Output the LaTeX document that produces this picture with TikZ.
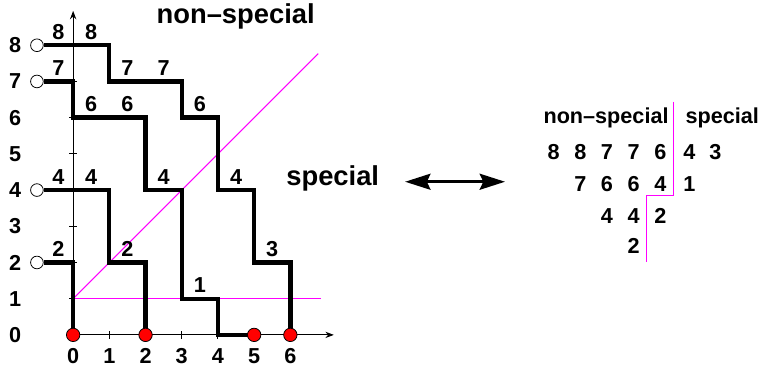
\documentclass[tikz,border=0pt]{standalone}
\usepackage{fontspec}
\setmainfont{Liberation Sans}
\usetikzlibrary{arrows.meta}
\definecolor{mag}{RGB}{255,0,255}

\begin{document}
\begin{tikzpicture}[
    >=Stealth,
    num/.style={font=\bfseries\fontsize{17}{20}\selectfont, inner sep=0pt},
    lab/.style={num, above=1mm},
    big/.style={font=\bfseries\fontsize{21.5}{25}\selectfont, inner sep=0pt},
    walk/.style={line width=3.4pt},
    axis/.style={line width=0.8pt},
    hole/.style={circle, draw, line width=0.6pt, fill=white, minimum size=3.5mm, inner sep=0pt},
    dot/.style={circle, draw, line width=0.6pt, fill=red, minimum size=3.7mm, inner sep=0pt},
    diag/.style={mag, line width=0.8pt}
]

\useasboundingbox (-2.02,-1.05) rectangle (19.0,9.25);

% ---------------- EIXOS ----------------

\draw[
    axis,
    ->
] (0,0) -- (0,8.95);

\draw[
    axis,
    ->
] (0,0) -- (7.2,0);

\foreach \i in {1,...,7}
    \draw[axis] (-0.11,\i) -- (0.11,\i);
\foreach \i in {1,...,6}
    \draw[axis] (\i,-0.11) -- (\i,0.11);

\foreach \i in {0,...,8}
    \node[num] (y\i) at (-1.6,\i) {\i};
\foreach \i in {0,...,6}
    \node[num] (x\i) at (\i,-0.58) {\i};

% Diagonal i recta y=1
\draw[diag] (0,1) -- (6.77,7.77);
\draw[diag] (0,1) -- (6.85,1);

% Inicis i finals
\node[hole] (o2) at (-1,2) {};
\node[hole] (o4) at (-1,4) {};
\node[hole] (o7) at (-1,7) {};
\node[hole] (o8) at (-1,8) {};

\coordinate (e0) at (0,0);
\coordinate (e2) at (2,0);
\coordinate (e5) at (5,0);
\coordinate (e6) at (6,0);

% ---------------- CAMINS ----------------

\draw[walk] (o2.east)
    -- node[lab] (p1a) {2} (0,2)
    -- (e0);

\draw[walk] (o4.east)
    -- node[lab] (p2a) {4} (0,4)
    -- node[lab] (p2b) {4} (1,4)
    -- (1,2)
    -- node[lab] (p2c) {2} (2,2)
    -- (e2);

\draw[walk] (o7.east)
    -- node[lab] (p3a) {7} (0,7)
    -- (0,6)
    -- node[lab] (p3b) {6} (1,6)
    -- node[lab] (p3c) {6} (2,6)
    -- (2,4)
    -- node[lab] (p3d) {4} (3,4)
    -- (3,1)
    -- node[lab] (p3e) {1} (4,1)
    -- (4,0)
    -- (e5);

\draw[walk] (o8.east)
    -- node[lab] (p4a) {8} (0,8)
    -- node[lab] (p4b) {8} (1,8)
    -- (1,7)
    -- node[lab] (p4c) {7} (2,7)
    -- node[lab] (p4d) {7} (3,7)
    -- (3,6)
    -- node[lab] (p4e) {6} (4,6)
    -- (4,4)
    -- node[lab] (p4f) {4} (5,4)
    -- (5,2)
    -- node[lab] (p4g) {3} (6,2)
    -- (e6);

\foreach \i in {0,2,5,6}
    \node[dot] (r\i) at (e\i) {};

\node[big] (title) at (4.49,8.81) {non–special};
\node[big] (spec) at (7.17,4.32) {special};

% Fletxa doble
\coordinate (al) at (9.17,4.23);
\coordinate (ar) at (11.93,4.23);
\draw[
    {Stealth[length=7mm,width=4.4mm,inset=1mm]}-{Stealth[length=7mm,width=4.4mm,inset=1mm]},
    line width=2.2pt
] (al) -- (ar);

% ---------------- TAULA ----------------

\node[num] (hn) at (14.72,5.99) {non–special};
\node[num] (hs) at (17.93,5.99) {special};

\foreach \x/\v [count=\k] in {13.27/8,14.01/8,14.74/7,15.48/7,16.22/6,17.02/4,17.74/3}
    \node[num] (a\k) at (\x,5.04) {\v};
\foreach \x/\v [count=\k] in {14.01/7,14.74/6,15.48/6,16.22/4,17.02/1}
    \node[num] (b\k) at (\x,4.16) {\v};
\foreach \x/\v [count=\k] in {14.74/4,15.48/4,16.22/2}
    \node[num] (c\k) at (\x,3.28) {\v};
\node[num] (d1) at (15.48,2.46) {2};

% Separacio
\draw[diag] (16.585,6.44) -- (16.585,3.84) -- (15.84,3.84) -- (15.84,2.0);

\end{tikzpicture}
\end{document}
